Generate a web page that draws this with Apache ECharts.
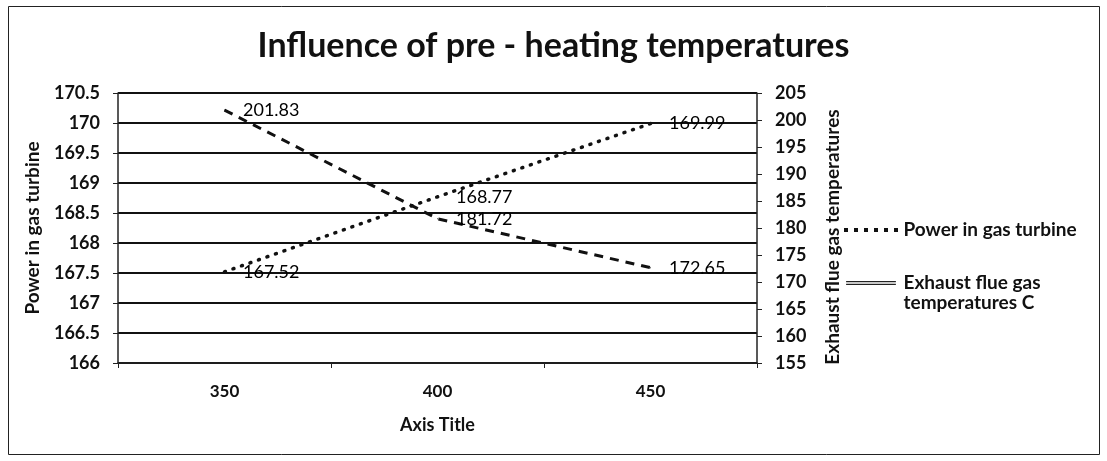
<!DOCTYPE html>
<html><head><meta charset="utf-8">
<script src="https://cdn.jsdelivr.net/npm/echarts@6/dist/echarts.min.js"></script>
<style>html,body{margin:0;padding:0;background:#fff}#c{width:1107px;height:461px}</style>
</head><body><div id="c"></div>
<script>
const categories = ['350', '400', '450'];
const powerValues = [167.52, 168.77, 169.99];
const exhaustValues = [201.83, 181.72, 172.65];
const titleText = 'Influence of pre - heating temperatures';
const xAxisName = 'Axis Title';
const leftAxisName = 'Power in gas turbine';
const rightAxisName = 'Exhaust flue gas temperatures';
const powerName = 'Power in gas turbine';
const exhaustName = 'Exhaust flue gas\ntemperatures C';

const FONT = 'Lato';
const chart = echarts.init(document.getElementById('c'));
const axisLabelStyle = {fontFamily: FONT, fontWeight: 'bold', fontSize: 18, color: '#111'};
const nameStyle = {fontFamily: FONT, fontWeight: 'bold', fontSize: 19, color: '#111'};
const dotsIcon = 'path://M0,0h4v4h-4z M10,0h4v4h-4z M20,0h4v4h-4z M30,0h4v4h-4z M40,0h4v4h-4z M50,0h4v4h-4z';
const doubleIcon = 'path://M0,0h56v1.3h-56z M0,3.2h56v1.3h-56z';
chart.setOption({
  animation: false,
  backgroundColor: '#fff',
  graphic: [{type: 'rect', shape: {x: 8.5, y: 6.5, width: 1091, height: 448}, style: {fill: 'none', stroke: '#222', lineWidth: 1}}],
  title: {text: titleText, left: 'center', top: 24,
    textStyle: {fontFamily: FONT, fontWeight: 'bold', fontSize: 34, color: '#111'}},
  grid: {left: 118, right: 350, top: 93, bottom: 98},
  legend: {orient: 'vertical', left: 844, top: 220, padding: 0, itemWidth: 55, itemHeight: 4, itemGap: 13,
    formatter: name => (name === exhaustName ? '\n' + name : name),
    textStyle: {fontFamily: FONT, fontWeight: 'bold', fontSize: 19, color: '#111', lineHeight: 20},
    data: [
      {name: powerName, icon: dotsIcon, itemStyle: {color: '#111'}},
      {name: exhaustName, icon: doubleIcon, itemStyle: {color: '#222'}}
    ]},
  xAxis: {type: 'category', data: categories, boundaryGap: true,
    name: xAxisName, nameLocation: 'middle', nameGap: 53, nameTextStyle: Object.assign({}, nameStyle, {fontSize: 18}),
    axisLine: {lineStyle: {color: '#222', width: 1.5}},
    axisTick: {show: true, length: 5, lineStyle: {color: '#222'}},
    axisLabel: Object.assign({margin: 20}, axisLabelStyle, {fontSize: 17})},
  yAxis: [
    {type: 'value', min: 166, max: 170.5, interval: 0.5, position: 'left',
     name: leftAxisName, nameLocation: 'middle', nameGap: 76, nameRotate: 90, nameTextStyle: nameStyle,
     axisLine: {show: true, lineStyle: {color: '#222', width: 1.5}},
     axisTick: {show: true, length: 5, lineStyle: {color: '#222'}},
     splitLine: {show: true, lineStyle: {color: '#111', width: 1.8}},
     axisLabel: Object.assign({margin: 18}, axisLabelStyle)},
    {type: 'value', min: 155, max: 205, interval: 5, position: 'right',
     name: rightAxisName, nameLocation: 'middle', nameGap: 66, nameRotate: 90,
     nameTextStyle: Object.assign({}, nameStyle, {padding: [0, 18, 0, 0]}),
     axisLine: {show: true, lineStyle: {color: '#222', width: 1.5}},
     axisTick: {show: true, length: 5, lineStyle: {color: '#222'}},
     splitLine: {show: false},
     axisLabel: Object.assign({margin: 18}, axisLabelStyle)}
  ],
  series: [
    {name: powerName, type: 'line', yAxisIndex: 0, data: powerValues,
     symbol: 'circle', symbolSize: 1, showSymbol: true,
     lineStyle: {color: '#111', width: 3.5, type: [1, 8], cap: 'round'}, itemStyle: {color: '#111'},
     label: {show: true, position: 'right', distance: 18, fontFamily: FONT, fontSize: 18, color: '#000'}},
    {name: exhaustName, type: 'line', yAxisIndex: 1, data: exhaustValues,
     symbol: 'circle', symbolSize: 1, showSymbol: true,
     lineStyle: {color: '#111', width: 3, type: [9, 7]}, itemStyle: {color: '#111'},
     label: {show: true, position: 'right', distance: 18, fontFamily: FONT, fontSize: 18, color: '#000'}}
  ]
});
</script></body></html>
